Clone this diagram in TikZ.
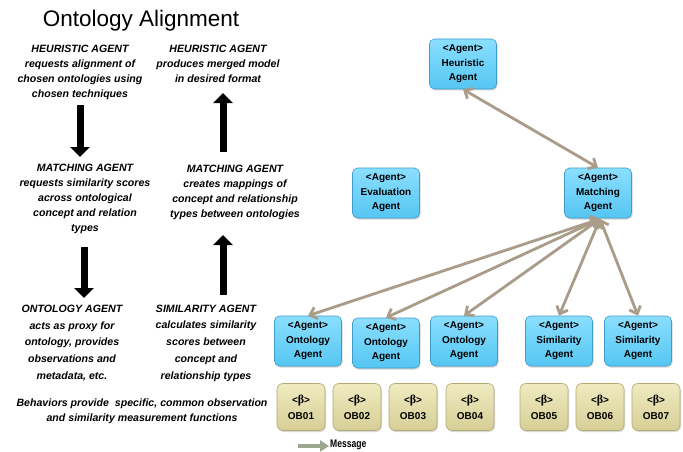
\documentclass[tikz,border=0pt]{standalone}
\usepackage{fontspec}
\setmainfont{Liberation Sans}
\newfontfamily\serifb{Liberation Serif}
\usetikzlibrary{arrows.meta,shadows}
\definecolor{agentA}{HTML}{8ADFFF}
\definecolor{agentB}{HTML}{55C6F2}
\definecolor{agentE}{HTML}{3E9CCB}
\definecolor{obA}{HTML}{EFEBC0}
\definecolor{obB}{HTML}{D6CE96}
\definecolor{obE}{HTML}{B4AA72}
\definecolor{msgc}{HTML}{A99C88}
\definecolor{legc}{HTML}{9CA88E}
\tikzset{
  agent/.style={draw=agentE, line width=0.6pt, rounded corners=5pt,
    top color=agentA, bottom color=agentB, minimum width=67pt, minimum height=50pt,
    align=center, font=\bfseries\fontsize{10}{14.5}\selectfont, inner sep=1pt,
    drop shadow={shadow xshift=1pt, shadow yshift=-1.5pt, opacity=0.35}},
  obbox/.style={draw=obE, line width=0.6pt, rounded corners=6pt,
    top color=obA, bottom color=obB, minimum width=48pt, minimum height=47pt,
    align=center, font=\bfseries\fontsize{10}{16}\selectfont, inner sep=1pt,
    drop shadow={shadow xshift=1pt, shadow yshift=-1.5pt, opacity=0.3}},
  desc/.style={align=center, font=\bfseries\itshape\fontsize{10.6}{15}\selectfont, inner sep=0pt},
  descb/.style={desc, font=\bfseries\itshape\fontsize{10.6}{16.7}\selectfont},
  msg/.style={draw=msgc, line width=2.8pt,
    {Straight Barb[length=6.5pt,width=12pt]}-{Straight Barb[length=6.5pt,width=12pt]}},
  blk/.style={draw=black, line width=7pt, -{Triangle[length=10pt,width=19pt]}},
}
\begin{document}
\begin{tikzpicture}[x=1pt,y=-1pt]
\useasboundingbox (0,0) rectangle (683,452);
\fill[white] (0,0) rectangle (683,452);

% title
\node (title) at (141,21) {\fontsize{22.5}{24}\selectfont Ontology Alignment};

% descriptions
\node[desc] (d1) at (80,72) {HEURISTIC AGENT\\requests alignment of\\chosen ontologies using\\chosen techniques};
\node[desc] (d2) at (218,64) {HEURISTIC AGENT\\produces merged model\\in desired format};
\node[desc] (d3) at (85,199) {MATCHING AGENT\\requests similarity scores\\across ontological\\concept and relation\\types};
\node[desc] (d4) at (235,192) {MATCHING AGENT\\creates mappings of\\concept and relationship\\types between ontologies};
\node[descb] (d5) at (72,343) {ONTOLOGY AGENT\\acts as proxy for\\ontology, provides\\observations and\\metadata, etc.};
\node[descb] (d6) at (206,343) {SIMILARITY AGENT\\calculates similarity\\scores between\\concept and\\relationship types};
\node[desc] (d7) at (142,411) {Behaviors provide\ \ specific, common observation\\and similarity measurement functions};

% block arrows
\coordinate (a1s) at (80,105); \coordinate (a1e) at (80,157);
\coordinate (a2s) at (223,152); \coordinate (a2e) at (223,93);
\coordinate (a3s) at (84,247); \coordinate (a3e) at (84,298);
\coordinate (a4s) at (223,295); \coordinate (a4e) at (223,235);
\draw[blk] (a1s) -- (a1e);
\draw[blk] (a2s) -- (a2e);
\draw[blk] (a3s) -- (a3e);
\draw[blk] (a4s) -- (a4e);

% agents
\node[agent] (heur) at (463,64) {<Agent>\\Heuristic\\Agent};
\node[agent] (eval) at (386,193) {<Agent>\\Evaluation\\Agent};
\node[agent] (match) at (598,193) {<Agent>\\Matching\\Agent};
\node[agent] (ont1) at (308,341) {<Agent>\\Ontology\\Agent};
\node[agent] (ont2) at (386,343) {<Agent>\\Ontology\\Agent};
\node[agent] (ont3) at (464,341) {<Agent>\\Ontology\\Agent};
\node[agent] (sim1) at (559,341) {<Agent>\\Similarity\\Agent};
\node[agent] (sim2) at (638,341) {<Agent>\\Similarity\\Agent};

% OB boxes
\foreach \n/\x in {01/301,02/357,03/413,04/470,05/544,06/600,07/656}{
  \node[obbox] (ob\n) at (\x,407) {<{\serifb\fontsize{12}{12}\selectfont\bfseries β}>\\OB\n};
}

% message arrows
\draw[msg] (heur.south) -- (match.north);
\coordinate (mhub) at (600,219);
\draw[msg] (mhub) -- (ont1.north);
\draw[msg] (mhub) -- (ont2.north);
\draw[msg] (mhub) -- (ont3.north);
\draw[msg] (mhub) -- (sim1.north);
\draw[msg] (mhub) -- (sim2.north);

% legend
\coordinate (lgs) at (298,446);
\coordinate (lge) at (329,446);
\draw[legc, line width=4pt, -{Triangle[length=9pt,width=11pt]}] (lgs) -- (lge);
\node[anchor=west, inner sep=0pt, font=\bfseries\fontsize{11}{12}\selectfont] (leg) at (330,445) {\addfontfeature{FakeStretch=0.78}Message};
\end{tikzpicture}
\end{document}
